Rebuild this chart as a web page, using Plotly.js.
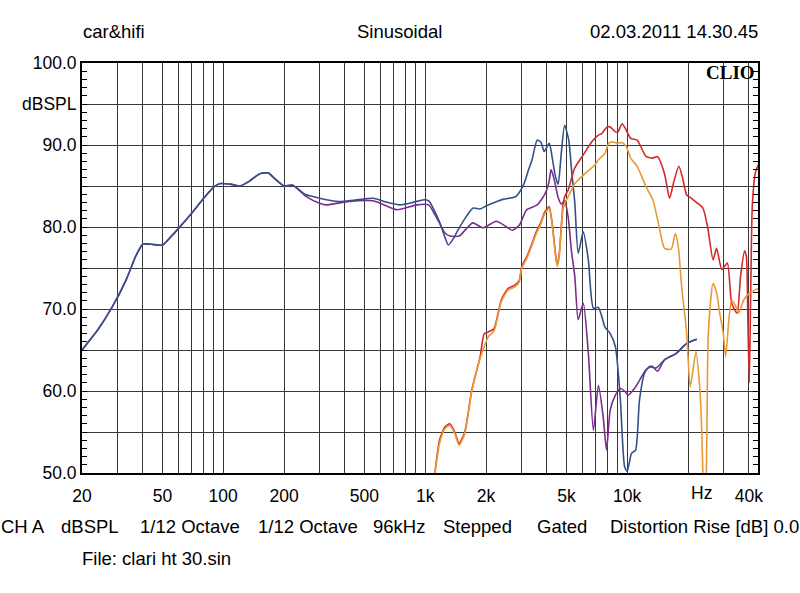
<!DOCTYPE html>
<html>
<head>
<meta charset="utf-8">
<script src="https://cdn.plot.ly/plotly-3.0.1.min.js"></script>
<style>html,body{margin:0;padding:0;background:#fff;}#chart{width:800px;height:593px;}</style>
</head>
<body>
<div id="chart"></div>
<script>
// ---- data (Hz, dBSPL) ----
var blueFreq = [20, 24, 28, 33, 37, 40, 44, 50, 55, 60, 70, 80, 90, 97, 110, 121, 135, 152, 167, 180, 200, 221, 254, 280, 330, 380, 450, 552, 650, 750, 870, 970, 1017, 1050, 1110, 1177, 1250, 1302, 1380, 1450, 1600, 1720, 1870, 2010, 2200, 2445, 2805, 3062, 3250, 3380, 3586, 3750, 3878, 4112, 4250, 4400, 4550, 4716, 4900, 5135, 5300, 5500, 5720, 6058, 6420, 6800, 7200, 7760, 8240, 8740, 9250, 9700, 10000, 10500, 11000, 11500, 12200, 12900, 13900, 15300, 17500, 19700, 22100];
var blueDb = [65, 67.5, 70.1, 73.5, 76.5, 77.9, 77.9, 77.8, 78.8, 79.8, 81.7, 83.5, 84.9, 85.3, 85.2, 85.0, 85.6, 86.5, 86.6, 85.9, 85.0, 85.1, 84.0, 83.7, 83.3, 83.1, 83.3, 83.5, 83.0, 82.7, 83.0, 83.3, 83.3, 83.1, 82.0, 80.6, 78.8, 77.8, 78.6, 79.6, 81.3, 82.3, 82.2, 82.6, 83.0, 83.4, 83.7, 85.1, 87.0, 88.2, 90.6, 90.3, 89.2, 90.2, 88.5, 86.3, 85.2, 89.0, 92.4, 90.6, 87.0, 83.0, 76.8, 79.4, 76.0, 70.1, 70.2, 67.8, 67.0, 65.4, 58.9, 50.8, 50.2, 52.4, 52.8, 58.9, 62.2, 63.0, 62.8, 63.8, 64.6, 65.8, 66.3];

var purpleFreq = [20, 24, 28, 33, 37, 40, 44, 50, 55, 60, 70, 80, 90, 97, 110, 121, 135, 152, 167, 180, 200, 221, 258, 300, 325, 410, 552, 725, 908, 1040, 1100, 1177, 1250, 1325, 1475, 1600, 1720, 1930, 2250, 2500, 2700, 2920, 3180, 3586, 3800, 3960, 4100, 4200, 4360, 4550, 4720, 4900, 5100, 5300, 5500, 5720, 6060, 6420, 6800, 7200, 7600, 7900, 8240, 8740, 9250, 9700, 10100, 11000, 12400, 13300, 14100, 15300, 17500, 19700, 22100];
var purpleDb = [65, 67.5, 70.1, 73.5, 76.5, 77.9, 77.9, 77.8, 78.8, 79.8, 81.7, 83.5, 84.9, 85.3, 85.2, 85.0, 85.6, 86.5, 86.6, 85.9, 85.0, 85.1, 83.7, 82.9, 82.7, 83.1, 83.2, 82.1, 82.7, 82.7, 81.8, 80.5, 79.3, 78.9, 78.9, 79.8, 80.5, 79.9, 80.7, 80.1, 79.6, 80.2, 82.1, 82.7, 83.5, 84.3, 85.5, 87.0, 85.7, 83.6, 82.8, 83.2, 81.2, 77.0, 74.0, 68.7, 70.7, 64.6, 55.2, 60.7, 56.9, 52.8, 57.7, 59.5, 60.3, 60.0, 59.5, 60.5, 62.6, 63.0, 62.4, 63.8, 64.6, 65.8, 66.3];

var redFreq = [1080, 1119, 1177, 1250, 1325, 1400, 1470, 1570, 1700, 1870, 1960, 2050, 2190, 2380, 2570, 2780, 2920, 3010, 3200, 3380, 3560, 3730, 3900, 4040, 4110, 4250, 4380, 4500, 4600, 4700, 4800, 4900, 5100, 5500, 6060, 6680, 7200, 7470, 7950, 8240, 8740, 9000, 9430, 9900, 10400, 11200, 12400, 13400, 14100, 15300, 16200, 17000, 18000, 18800, 19700, 20800, 22000, 23700, 25000, 26600, 27700, 29400, 31300, 32900, 35000, 36400, 38100, 38900, 39500, 40200, 40800, 41600, 43000, 44500];
var redDb = [47, 50.2, 54.0, 55.6, 56.0, 55.0, 53.6, 55.0, 60.1, 64.2, 67.0, 67.2, 67.6, 71.1, 72.5, 72.9, 73.5, 75.2, 76.5, 78.0, 79.5, 80.5, 81.8, 82.3, 82.5, 80.5, 77.5, 75.4, 76.5, 79.5, 82.5, 83.7, 84.5, 87.2, 88.8, 90.4, 91.2, 91.4, 92.2, 92.2, 91.6, 91.6, 92.6, 91.8, 90.8, 90.6, 88.6, 88.4, 88.6, 86.5, 83.5, 85.5, 87.4, 86.0, 83.9, 83.5, 83.0, 82.3, 80.0, 76.0, 77.4, 74.8, 75.6, 70.7, 69.5, 74.0, 77.1, 76.4, 69.5, 61.0, 71.0, 82.5, 86.5, 87.6];

var orangeFreq = [1080, 1119, 1177, 1250, 1325, 1400, 1470, 1570, 1700, 1870, 1960, 2050, 2190, 2380, 2570, 2780, 2920, 3010, 3200, 3380, 3560, 3730, 3900, 4040, 4110, 4250, 4380, 4500, 4600, 4700, 4800, 4900, 5100, 5300, 5500, 6170, 6930, 7200, 7760, 8100, 8400, 8900, 9400, 9900, 10400, 11200, 12400, 13400, 14400, 15300, 16500, 17300, 17900, 18600, 19700, 20500, 21900, 22900, 23400, 23800, 24300, 24800, 25200, 26600, 27700, 28700, 29900, 30700, 31800, 32900, 34200, 35600, 37700, 40200, 44500];
var orangeDb = [47, 50.0, 53.6, 55.4, 55.8, 54.8, 53.4, 54.8, 60.0, 64.0, 65.4, 66.6, 67.3, 70.9, 72.3, 72.7, 73.3, 75.0, 76.3, 77.8, 79.3, 80.3, 81.6, 82.1, 82.3, 80.3, 77.3, 75.2, 76.3, 79.3, 82.1, 82.8, 83.7, 84.5, 85.3, 86.5, 87.6, 88.2, 89.0, 90.2, 90.4, 90.2, 90.3, 89.8, 88.4, 87.4, 84.9, 83.3, 80.0, 77.4, 77.3, 79.2, 77.6, 72.7, 67.0, 60.5, 64.8, 60.1, 54.9, 48, 42, 55, 67, 73.1, 72.0, 69.5, 67.0, 64.2, 68.5, 71.1, 70.5, 69.5, 71.1, 71.9, 72.5];

var xGridVals = [20,30,40,50,60,70,80,90,100,200,300,400,500,600,700,800,900,1000,2000,3000,4000,5000,6000,7000,8000,9000,10000,20000,30000,40000];
var xLabelMap = {20:'20',50:'50',100:'100',200:'200',500:'500',1000:'1k',2000:'2k',5000:'5k',10000:'10k',40000:'40k'};
var yTickVals = [50,55,60,65,70,75,80,85,90,95,100];
var yTickText = ['50.0','','60.0','','70.0','','80.0','','90.0','dBSPL','100.0'];

var xTickText = xGridVals.map(function(v){ return xLabelMap[v] || ''; });
var yMinor = [];
for (var d = 51; d < 100; d++) { if (d % 5 !== 0) yMinor.push(d); }

function line(x, y, color) {
  return {x: x, y: y, type: 'scatter', mode: 'lines', line: {color: color, width: 1.6, shape: 'spline', smoothing: 0.6}, hoverinfo: 'skip'};
}
var traces = [
  line(purpleFreq, purpleDb, '#7b2d8e'),
  line(blueFreq, blueDb, '#34508c'),
  line(redFreq, redDb, '#d22a2a'),
  line(orangeFreq, orangeDb, '#e99a36')
];

var F = 'Liberation Sans, Arial, sans-serif';
function px2x(p){ return (p - 82) / 676; }
function px2y(p){ return (473 - p) / 410; }
function ann(text, xp, yp, anchor, extra) {
  var a = {text: text, xref: 'paper', yref: 'paper', x: px2x(xp), y: px2y(yp), xanchor: anchor, yanchor: 'middle', showarrow: false, font: {family: F, size: 18.5, color: '#000'}};
  if (extra) for (var k in extra) a[k] = extra[k];
  return a;
}

var annotations = [
  ann('car&amp;hifi', 81, 31.5, 'left'),
  ann('Sinusoidal', 399, 31.5, 'center'),
  ann('02.03.2011 14.30.45', 760, 31.5, 'right'),
  ann('<b>CLIO</b>', 757, 72, 'right', {font: {family: 'Liberation Serif, Times New Roman, serif', size: 19, color: '#000'}}),
  ann('Hz', 701, 493, 'center', {font: {family: F, size: 17.5, color: '#000'}}),
  ann('CH A', -1, 526, 'left'),
  ann('dBSPL', 59, 526, 'left'),
  ann('1/12 Octave', 138, 526, 'left'),
  ann('1/12 Octave', 256, 526, 'left'),
  ann('96kHz', 371, 526, 'left'),
  ann('Stepped', 441, 526, 'left'),
  ann('Gated', 535, 526, 'left'),
  ann('Distortion Rise [dB] 0.0', 608, 526, 'left'),
  ann('File: clari ht 30.sin', 80, 558, 'left')
];

var layout = {
  width: 800, height: 593,
  margin: {l: 82, r: 42, t: 63, b: 120, pad: 0},
  paper_bgcolor: '#fff', plot_bgcolor: '#fff',
  showlegend: false,
  font: {family: F, size: 17.5, color: '#000'},
  xaxis: {
    type: 'log', range: [Math.log10(20), Math.log10(44400)],
    tickmode: 'array', tickvals: xGridVals, ticktext: xTickText,
    ticks: '', showgrid: true, gridcolor: '#383838', gridwidth: 1,
    showline: true, linecolor: '#000', linewidth: 2, mirror: true,
    zeroline: false, tickfont: {family: F, size: 17.5, color: '#000'},
    ticklabelstandoff: 6
  },
  yaxis: {
    range: [50, 100], tickmode: 'array', tickvals: yTickVals, ticktext: yTickText,
    ticks: 'inside', ticklen: 5, tickcolor: '#000', tickwidth: 1,
    minor: {tickmode: 'array', tickvals: yMinor, ticks: 'inside', ticklen: 5, tickcolor: '#000', tickwidth: 1, showgrid: false},
    showgrid: true, gridcolor: '#383838', gridwidth: 1,
    showline: true, linecolor: '#000', linewidth: 2, mirror: 'ticks',
    zeroline: false, tickfont: {family: F, size: 17.5, color: '#000'},
    ticklabelstandoff: 0
  },
  annotations: annotations
};

Plotly.newPlot('chart', traces, layout, {staticPlot: true, displayModeBar: false});
</script>
</body>
</html>
